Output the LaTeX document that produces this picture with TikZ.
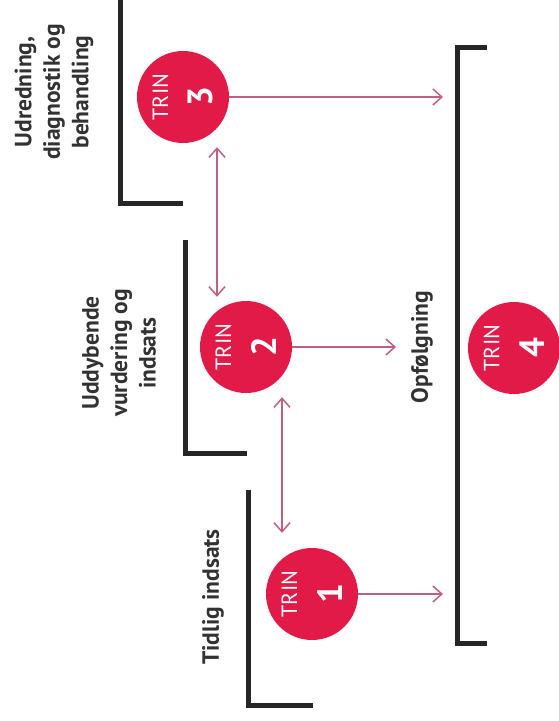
\documentclass[tikz,border=0pt]{standalone}
\usepackage{fontspec}
\setmainfont{PT Sans}
\usetikzlibrary{arrows.meta}
\definecolor{trinred}{RGB}{226,26,72}
\definecolor{arrowc}{RGB}{192,96,128}
\definecolor{labc}{RGB}{50,50,50}
\definecolor{brk}{RGB}{38,38,38}
\newcommand{\trinnum}[1]{TRIN\\[19pt]{\bfseries\fontsize{35}{35}\selectfont #1}}
\begin{document}
\begin{tikzpicture}[x=1pt,y=-1pt,
  circ/.style={circle, fill=trinred, minimum size=92pt, inner sep=0pt},
  trin/.style={rotate=90, text=white, align=center, inner sep=0pt,
    font=\fontsize{22}{20}\selectfont},
  lab/.style={rotate=90, text=labc, align=center, inner sep=0pt,
    font=\bfseries\fontsize{23.5}{28.5}\selectfont},
  brack/.style={draw=brk, line width=5pt, line cap=butt, line join=miter},
  tip/.tip={Straight Barb[length=9pt,width=16pt,line width=1.5pt]},
  arr/.style={draw=arrowc, line width=1.5pt, -tip},
  dbl/.style={draw=arrowc, line width=1.5pt, tip-tip}]
\useasboundingbox (0,0) rectangle (558,721);

% brackets
\draw[brack] (120,-3) -- (120,203) -- (183,203);
\draw[brack] (185,240) -- (185,453) -- (247,453);
\draw[brack] (248,490) -- (248,705) -- (313,705);
\draw[brack] (487,47) -- (457,47) -- (457,643) -- (487,643);

% circles
\node[circ] (c3) at (183,97) {};
\node[circ] (c2) at (246,347) {};
\node[circ] (c1) at (312,594) {};
\node[circ] (c4) at (514,348) {};

\node[trin] (t3) at (c3) {\trinnum{3}};
\node[trin] (t2) at (c2) {\trinnum{2}};
\node[trin] (t1) at (c1) {\trinnum{1}};
\node[trin] (t4) at (c4) {\trinnum{4}};

% labels
\node[lab] (l3) at (54,92) {Udredning,\\diagnostik og\\behandling};
\node[lab] (l2) at (119,353) {Uddybende\\vurdering og\\indsats};
\node[lab] (l1) at (213,597) {Tidlig indsats};
\node[lab] (l4) at (422,347) {Opfølgning};

% arrow end points
\coordinate (e3) at (443,97);
\coordinate (e2) at (396,347);
\coordinate (e1) at (443,594);
\coordinate (x32) at (217,0);
\coordinate (x21) at (282,0);

\draw[arr] (c3.east) -- (e3);
\draw[arr] (c2.east) -- (e2);
\draw[arr] (c1.east) -- (e1);
\draw[dbl, shorten <=4pt, shorten >=4pt] (c3.south -| x32) -- (c2.north -| x32);
\draw[dbl, shorten <=4pt, shorten >=15pt] (c2.south -| x21) -- (c1.north -| x21);
\end{tikzpicture}
\end{document}
